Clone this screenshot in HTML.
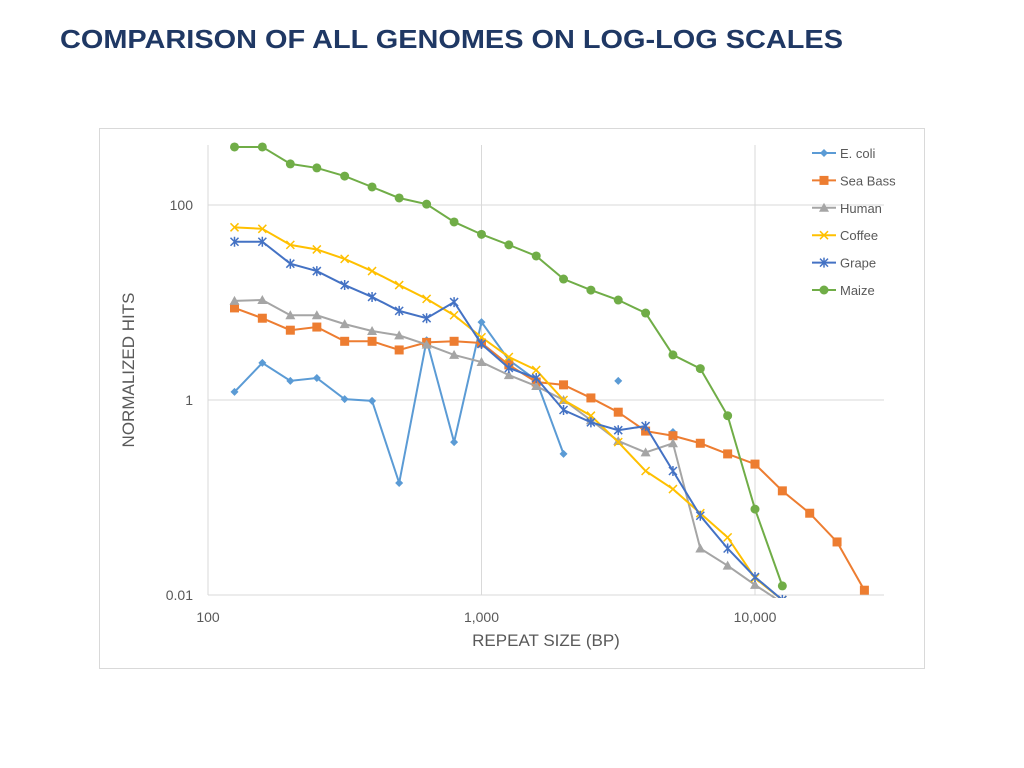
<!DOCTYPE html>
<html><head><meta charset="utf-8"><style>
body{margin:0;background:#fff;font-family:"Liberation Sans",sans-serif}
</style></head><body>
<svg width="1024" height="768" style="position:absolute;left:0;top:0">
<text x="60" y="48" font-size="26" font-weight="bold" fill="#1f3864" textLength="783" lengthAdjust="spacingAndGlyphs">COMPARISON OF ALL GENOMES ON LOG-LOG SCALES</text>
<rect x="99.5" y="128.5" width="825" height="540" fill="none" stroke="#d9d9d9"/>
<g id="grid"></g><g id="series" clip-path="url(#c)"></g><g id="ax"></g><g id="leg"></g>
<defs><clipPath id="c"><rect x="200" y="140" width="690" height="458"/></clipPath></defs>
<text x="546" y="646" font-size="17" fill="#595959" text-anchor="middle">REPEAT SIZE (BP)</text>
<text transform="translate(134,370) rotate(-90)" font-size="17" fill="#595959" text-anchor="middle">NORMALIZED HITS</text>
</svg>
<script>
const xs=[125,158,200,250,316,398,500,630,794,1000,1259,1585,1995,2512,3162,3981,5012,6310,7943,10000,12589,15849,19953,25119];
const names=["E. coli","Sea Bass","Human","Coffee","Grape","Maize"];
const colors=["#5b9bd5","#ed7d31","#a5a5a5","#ffc000","#4472c4","#70ad47"];
const ecoli=[1.21,2.4,1.57,1.68,1.02,0.98,0.141,4.1,0.37,6.3,2.57,1.6,0.28,null,1.57,null,0.47];
const seabass=[8.8,6.9,5.2,5.6,4.0,4.0,3.26,3.9,4.0,3.84,2.29,1.53,1.43,1.05,0.75,0.48,0.43,0.36,0.28,0.22,0.117,0.069,0.035,0.0112];
const human=[10.4,10.6,7.4,7.4,6.0,5.1,4.6,3.7,2.9,2.45,1.8,1.39,1.0,0.62,0.38,0.29,0.36,0.030,0.020,0.0127,0.0083];
const coffee=[59,57,39,35,28,21,15.1,10.9,7.4,4.4,2.76,2.03,1.0,0.69,0.37,0.187,0.122,0.069,0.039,0.0149,0.0089];
const grape=[42,42,25,21,15.1,11.4,8.2,6.9,10.1,3.75,2.13,1.68,0.79,0.59,0.49,0.54,0.187,0.065,0.030,0.0153,0.0089];
const maize=[394,394,264,240,198,153,118,102,67,50,39,30,17.4,13.4,10.6,7.8,2.9,2.1,0.69,0.076,0.0124];
const yTicks=[100,1,0.01],yTickLabels=["100","1","0.01"];
const xTicks=[100,1000,10000],xTickLabels=["100","1,000","10,000"];
const X=v=>208+273.5*Math.log10(v/100), Y=v=>400-97.5*Math.log10(v);
const NS="http://www.w3.org/2000/svg";
function mk(t,a,p){const e=document.createElementNS(NS,t);for(const k in a)e.setAttribute(k,a[k]);p.appendChild(e);return e;}
const grid=document.getElementById('grid'),ax=document.getElementById('ax'),ser=document.getElementById('series'),leg=document.getElementById('leg');
yTicks.forEach((t,i)=>{const l=mk('line',{x1:208,x2:884,y1:Y(t),y2:Y(t),stroke:'#d9d9d9'},grid);

const tx=mk('text',{x:193,y:Y(t)+5,'font-size':14,fill:'#595959','text-anchor':'end'},ax);tx.textContent=yTickLabels[i];
});
xTicks.forEach((t,i)=>{const l=mk('line',{x1:X(t),x2:X(t),y1:145,y2:595,stroke:'#d9d9d9'},grid);

const tx=mk('text',{x:X(t),y:622,'font-size':14,fill:'#595959','text-anchor':'middle'},ax);tx.textContent=xTickLabels[i];
});
function marker(k,x,y,c,g){
 if(k==0)return mk('path',{d:`M${x} ${y-4}L${x+4} ${y}L${x} ${y+4}L${x-4} ${y}Z`,fill:c},g);
 if(k==1)return mk('rect',{x:x-4.5,y:y-4.5,width:9,height:9,fill:c},g);
 if(k==2)return mk('path',{d:`M${x} ${y-5}L${x+5} ${y+4}L${x-5} ${y+4}Z`,fill:c},g);
 if(k==3)return mk('path',{d:`M${x-4} ${y-4}L${x+4} ${y+4}M${x+4} ${y-4}L${x-4} ${y+4}`,stroke:c,'stroke-width':1.5},g);
 if(k==4)return mk('path',{d:`M${x-4} ${y-4}L${x+4} ${y+4}M${x+4} ${y-4}L${x-4} ${y+4}M${x} ${y-5}L${x} ${y+5}`,stroke:c,'stroke-width':1.5},g);
 return mk('circle',{cx:x,cy:y,r:4.5,fill:c},g);}
[ecoli,seabass,human,coffee,grape,maize].forEach((d,k)=>{
 const g=mk('g',{},ser);
 let segs=[],cur=[];d.forEach((v,i)=>{if(v==null){if(cur.length)segs.push(cur);cur=[];}else cur.push([X(xs[i]),Y(v)]);});if(cur.length)segs.push(cur);
 segs.forEach(s=>{if(s.length>1){const p=mk('polyline',{points:s.map(q=>q.join(',')).join(' '),fill:'none',stroke:colors[k],'stroke-width':2},g);
 }});
 d.forEach((v,i)=>{if(v==null)return;const m=marker(k,X(xs[i]),Y(v),colors[k],g);
 });
 const ly=153+k*27.4;const lg=mk('g',{},leg);
 mk('line',{x1:812,x2:836,y1:ly,y2:ly,stroke:colors[k],'stroke-width':2},lg);marker(k,824,ly,colors[k],lg);
 const t=mk('text',{x:840,y:ly+5,'font-size':13,fill:'#595959'},lg);t.textContent=names[k];});
</script></body></html>
